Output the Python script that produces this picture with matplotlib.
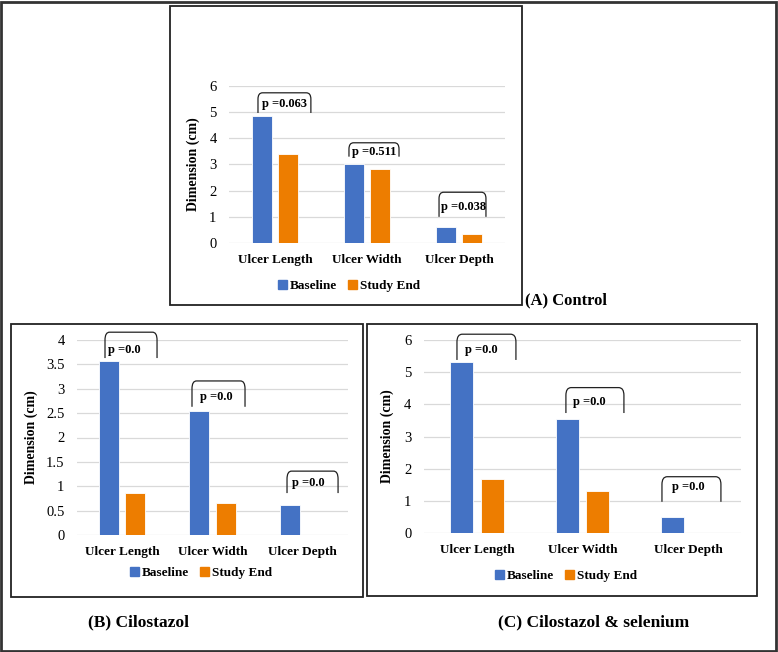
import matplotlib
matplotlib.use("Agg")
import matplotlib.pyplot as plt
from matplotlib.patches import Rectangle, Patch
from matplotlib.path import Path
from matplotlib.patches import PathPatch

plt.rcParams['font.family'] = ['Liberation Serif', 'DejaVu Serif']

# data
categories = ['Ulcer Length', 'Ulcer Width', 'Ulcer Depth']
series_names = ['Baseline', 'Study End']

control_baseline = [4.85, 3.01, 0.61]
control_end = [3.39, 2.82, 0.36]
control_p = ['0.063', '0.511', '0.038']

cilostazol_baseline = [3.57, 2.54, 0.62]
cilostazol_end = [0.86, 0.66, 0.0]
cilostazol_p = ['0.0', '0.0', '0.0']

selenium_baseline = [5.33, 3.55, 0.49]
selenium_end = [1.68, 1.31, 0.0]
selenium_p = ['0.0', '0.0', '0.0']

BLUE = '#4472C4'
ORANGE = '#ED7D00'
W, H = 778, 652


def fig_rect(x0, y0, x1, y1):
    """pixel box (top-left origin) -> figure fraction rect"""
    return [x0 / W, 1 - y1 / H, (x1 - x0) / W, (y1 - y0) / H]


def bracket(ax, left, right, top, bottom, rx, ry):
    verts = [(left, bottom), (left, top - ry), (left, top), (left + rx, top),
             (right - rx, top), (right, top), (right, top - ry), (right, bottom)]
    codes = [Path.MOVETO, Path.LINETO, Path.CURVE3, Path.CURVE3,
             Path.LINETO, Path.CURVE3, Path.CURVE3, Path.LINETO]
    ax.add_patch(PathPatch(Path(verts, codes), fill=False, lw=0.9,
                           edgecolor='#222222', clip_on=False))


def panel(rect, base, end, pvals, ymax, ystep, yfmt, brackets, ylab_x):
    ax = fig.add_axes(rect)
    x = range(len(categories))
    ax.bar([i - 0.145 for i in x], base, width=0.22, color=BLUE,
           edgecolor='white', linewidth=0.6, zorder=3)
    ax.bar([i + 0.145 for i in x], end, width=0.22, color=ORANGE,
           edgecolor='white', linewidth=0.6, zorder=3)
    ax.set_xlim(-0.5, len(categories) - 0.5)
    ax.set_ylim(0, ymax)
    ticks = [k * ystep for k in range(int(round(ymax / ystep)) + 1)]
    ax.set_yticks(ticks)
    ax.set_yticklabels([yfmt(t) for t in ticks], fontsize=10.5)
    ax.set_xticks(list(x))
    ax.set_xticklabels(categories, fontsize=9.5, fontweight='bold')
    ax.tick_params(axis='both', length=0)
    ax.tick_params(axis='y', pad=9)
    ax.tick_params(axis='x', pad=8)
    for s in ax.spines.values():
        s.set_visible(False)
    ax.yaxis.grid(True, color='#d9d9d9', lw=0.9, zorder=0)
    ax.set_axisbelow(True)
    ax.set_ylabel('Dimension (cm)', fontsize=10, fontweight='bold')
    ax.yaxis.set_label_coords(ylab_x, 0.5)
    for i, (bl, br, top, bot, ty, tx) in enumerate(brackets):
        bracket(ax, i + bl, i + br, top, bot, 0.05, ymax * 0.04)
        ax.text(i + tx, ty, 'p =' + pvals[i], fontsize=9, fontweight='bold',
                ha='left', va='center')
    return ax


fig = plt.figure(figsize=(W / 100, H / 100), dpi=100)

# frames
fig.patches.append(Rectangle((1 / W, 1 / H), 775 / W, 649 / H, transform=fig.transFigure,
                             fill=False, lw=2, edgecolor='#333333'))
for x0, y0, x1, y1 in [(170, 6, 522, 305), (11, 324, 363, 597), (367, 324, 757, 596)]:
    r = fig_rect(x0, y0, x1, y1)
    fig.patches.append(Rectangle((r[0], r[1]), r[2], r[3], transform=fig.transFigure,
                                 fill=False, lw=1.3, edgecolor='#222222'))

int_fmt = lambda t: '%d' % t
half_fmt = lambda t: ('%d' % t) if t == int(t) else ('%.1f' % t)

# (left, right, top, leg bottom, text y, text x) relative to category
ax_a = panel(fig_rect(229, 86, 505, 243), control_baseline, control_end, control_p,
             6, 1, int_fmt,
             [(-0.185, 0.39, 5.74, 4.97, 5.32, -0.14),
              (-0.196, 0.348, 3.83, 3.30, 3.48, -0.16),
              (-0.217, 0.293, 1.94, 1.00, 1.38, -0.20)], -0.105)
ax_b = panel(fig_rect(77, 340, 348, 535), cilostazol_baseline, cilostazol_end, cilostazol_p,
             4, 0.5, half_fmt,
             [(-0.19, 0.386, 4.16, 3.63, 3.79, -0.157),
              (-0.227, 0.36, 3.16, 2.63, 2.83, -0.14),
              (-0.175, 0.39, 1.31, 0.86, 1.07, -0.12)], -0.144)
ax_c = panel(fig_rect(424, 340, 741, 533), selenium_baseline, selenium_end, selenium_p,
             6, 1, int_fmt,
             [(-0.188, 0.37, 6.18, 5.38, 5.69, -0.112),
              (-0.157, 0.392, 4.52, 3.73, 4.08, -0.09),
              (-0.248, 0.31, 1.75, 0.97, 1.43, -0.154)], -0.095)

# legends
handles = [Patch(color=BLUE, label=series_names[0]), Patch(color=ORANGE, label=series_names[1])]
for cx, cy in [(349, 286), (201, 573), (566, 576)]:
    fig.legend(handles=handles, loc='center', bbox_to_anchor=(cx / W, 1 - cy / H),
               ncol=2, frameon=False, prop={'weight': 'bold', 'size': 9.5},
               handlelength=0.7, handleheight=0.7, handletextpad=0.25,
               columnspacing=0.8, borderpad=0)

fig.text(525 / W, 1 - 300 / H, '(A) Control', fontsize=12, fontweight='bold',
         ha='left', va='center')
fig.text(139 / W, 1 - 622 / H, '(B) Cilostazol', fontsize=12.5, fontweight='bold',
         ha='center', va='center')
fig.text(594 / W, 1 - 622 / H, '(C) Cilostazol & selenium', fontsize=12.5,
         fontweight='bold', ha='center', va='center')

fig.savefig('out.png', dpi=100)
